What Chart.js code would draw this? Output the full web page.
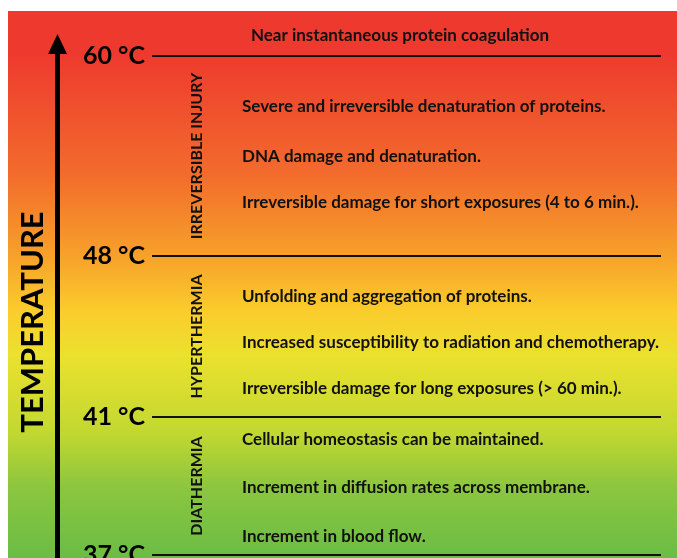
<!DOCTYPE html>
<html>
<head>
<meta charset="utf-8">
<script src="https://cdn.jsdelivr.net/npm/chart.js@4.4.0/dist/chart.umd.min.js"></script>
<style>
  body { margin: 0; background: #fff; }
  #wrap { width: 677px; height: 558px; }
</style>
</head>
<body>
<div id="wrap"><canvas id="chart1"></canvas></div>
<script>
// data
var temperatures = [37, 41, 48, 60];
var bandNames = ["DIATHERMIA", "HYPERTHERMIA", "IRREVERSIBLE INJURY"];
var bandTexts = [
  ["Cellular homeostasis can be maintained.",
   "Increment in diffusion rates across membrane.",
   "Increment in blood flow."],
  ["Unfolding and aggregation of proteins.",
   "Increased susceptibility to radiation and chemotherapy.",
   "Irreversible damage for long exposures (> 60 min.)."],
  ["Severe and irreversible denaturation of proteins.",
   "DNA damage and denaturation.",
   "Irreversible damage for short exposures (4 to 6 min.)."]
];
var topText = "Near instantaneous protein coagulation";
var axisTitle = "TEMPERATURE";

// layout: where each threshold sits on the (non linear) vertical axis
var levelPos = [0, 3, 6.5, 10.85];
var rowPos = [[2.5, 1.46, 0.41], [5.63, 4.63, 3.63], [9.76, 8.67, 7.67]];
var topTextPos = 11.3;

var FONT = "Lato, 'Open Sans', sans-serif";

var datasets = [];
for (var i = 0; i < temperatures.length; i++) {
  datasets.push({
    label: temperatures[i] + " °C",
    data: [{x: 0, y: levelPos[i]}, {x: 1, y: levelPos[i]}],
    borderColor: "#111",
    borderWidth: 2,
    pointRadius: 0
  });
}

var deco = {
  id: "deco",
  beforeDraw: function (chart) {
    var ctx = chart.ctx;
    var g = ctx.createLinearGradient(0, 11, 0, 558);
    g.addColorStop(0.00, "#ee3a2e");
    g.addColorStop(0.08, "#ee3a2e");
    g.addColorStop(0.30, "#f26c2c");
    g.addColorStop(0.45, "#f7a22a");
    g.addColorStop(0.55, "#fbcd2c");
    g.addColorStop(0.63, "#ebe12e");
    g.addColorStop(0.77, "#c2d830");
    g.addColorStop(0.87, "#8cc63f");
    g.addColorStop(1.00, "#6abd45");
    ctx.save();
    ctx.fillStyle = "#fff";
    ctx.fillRect(0, 0, chart.width, chart.height);
    ctx.fillStyle = g;
    ctx.fillRect(8, 11, chart.width - 8, chart.height - 11);
    ctx.restore();
  },
  afterDatasetsDraw: function (chart) {
    var ctx = chart.ctx;
    var y = chart.scales.y;
    ctx.save();
    // arrow
    ctx.fillStyle = "#000";
    ctx.fillRect(55, 50, 5, chart.height - 50);
    ctx.beginPath();
    ctx.moveTo(57.5, 34);
    ctx.lineTo(67, 54);
    ctx.lineTo(48, 54);
    ctx.closePath();
    ctx.fill();
    // axis title
    ctx.save();
    ctx.translate(33, 322);
    ctx.rotate(-Math.PI / 2);
    ctx.font = "bold 31px " + FONT;
    ctx.textAlign = "center";
    ctx.textBaseline = "middle";
    ctx.fillText(axisTitle, 0, 0);
    ctx.restore();
    // top text
    ctx.font = "bold 17px " + FONT;
    ctx.fillStyle = "#111";
    ctx.textAlign = "center";
    ctx.textBaseline = "middle";
    ctx.fillText(topText, 400, y.getPixelForValue(topTextPos));
    // bands
    for (var b = 0; b < bandNames.length; b++) {
      var mid = y.getPixelForValue((levelPos[b] + levelPos[b + 1]) / 2);
      ctx.save();
      ctx.translate(197, mid);
      ctx.rotate(-Math.PI / 2);
      ctx.font = "bold 16px " + FONT;
      ctx.textAlign = "center";
      ctx.fillText(bandNames[b], 0, 0);
      ctx.restore();
      ctx.textAlign = "left";
      ctx.font = "bold 17px " + FONT;
      for (var r = 0; r < bandTexts[b].length; r++) {
        ctx.fillText(bandTexts[b][r], 242, y.getPixelForValue(rowPos[b][r]));
      }
    }
    ctx.restore();
  }
};

var canvas = document.getElementById("chart1").getContext("2d");
window.escala = new Chart(canvas, {
  type: "line",
  data: { datasets: datasets },
  options: {
    responsive: true,
    maintainAspectRatio: false,
    animation: false,
    layout: { autoPadding: false, padding: { left: 8, right: 16, top: 0, bottom: 0 } },
    plugins: { legend: { display: false }, tooltip: { enabled: false } },
    scales: {
      x: { type: "linear", min: 0, max: 1, display: false },
      y: {
        type: "linear",
        min: -3 / 46,
        max: 555 / 46,
        grid: { display: false, drawTicks: false },
        border: { display: false },
        afterFit: function (s) { s.width = 144; s.paddingTop = 0; s.paddingBottom = 0; },
        afterBuildTicks: function (s) {
          s.ticks = levelPos.map(function (v) { return { value: v }; });
        },
        ticks: {
          padding: 7,
          color: "#000",
          font: { family: FONT, size: 25, weight: "bold" },
          callback: function (v) {
            var i = levelPos.indexOf(v);
            return i < 0 ? "" : temperatures[i] + " °C";
          }
        }
      }
    }
  },
  plugins: [deco]
});
</script>
</body>
</html>
